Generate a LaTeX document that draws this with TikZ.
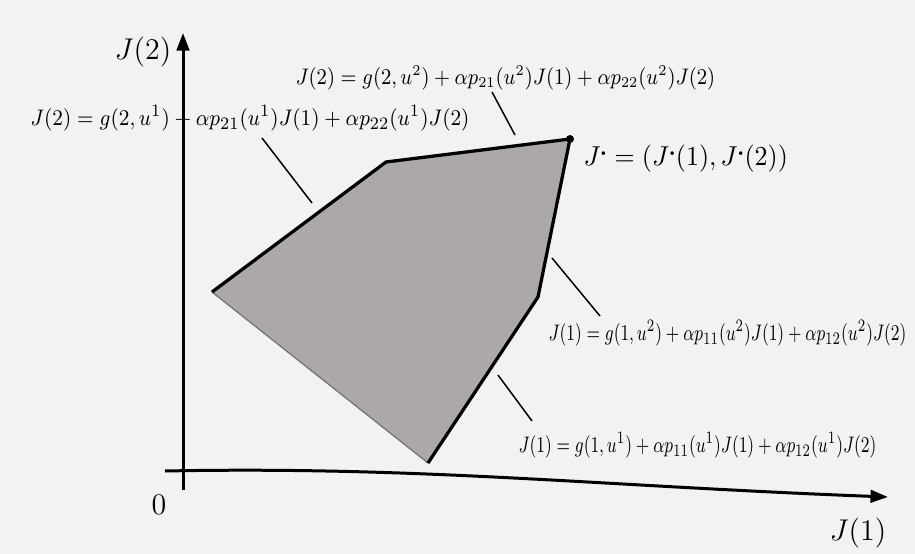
\documentclass[tikz,border=0pt]{standalone}
\usepackage{graphicx}
\usetikzlibrary{arrows.meta}
\definecolor{bg}{RGB}{242,242,240}
\definecolor{polyfill}{RGB}{172,168,167}
\newcommand{\sqz}[2]{\scalebox{#1}[1]{#2}}
\newcommand{\jst}{J^{\kern0.2pt\scalebox{0.6}{$\scriptscriptstyle\bullet$}}}
\begin{document}
\begin{tikzpicture}[x=0.4pt,y=-0.4pt,
  edge/.style={line width=1.3pt, line join=miter},
  leader/.style={line width=0.6pt},
  axis/.style={line width=1.2pt, -{Triangle[length=7pt,width=5pt]}},
  lbl/.style={inner sep=0pt, anchor=west, font=\fontsize{9.5}{11}\selectfont},
  axl/.style={inner sep=0pt, font=\fontsize{13}{15}\selectfont}]
\useasboundingbox[fill=bg] (0,0) rectangle (915,554);
% polygon vertices
\coordinate (A) at (212,292);
\coordinate (B) at (386,162);
\coordinate (S) at (570,139);
\coordinate (C) at (538,297);
\coordinate (D) at (428,463);
\fill[polyfill] (A)--(B)--(S)--(C)--(D)--cycle;
\draw[black!55, line width=0.5pt] (D)--(A);
\draw[edge] (A)--(B)--(S)--(C)--(D);
\fill (S) circle (4);
% axes
\coordinate (O1) at (183,490);
\coordinate (YT) at (183,33);
\coordinate (X0) at (165,471);
\coordinate (XT) at (888,497);
\draw[axis] (O1) -- (YT);
\draw[axis] (X0) .. controls (420,466) and (600,486) .. (XT);
% labels
\node[lbl] (L1) at (30,118) {\sqz{0.92}{$J(2)=g(2,u^1)+\alpha p_{21}(u^1)J(1)+\alpha p_{22}(u^1)J(2)$}};
\node[lbl, font=\fontsize{9}{11}\selectfont] (L2) at (295,78) {\sqz{0.89}{$J(2)=g(2,u^2)+\alpha p_{21}(u^2)J(1)+\alpha p_{22}(u^2)J(2)$}};
\node[lbl, font=\fontsize{11}{13}\selectfont] (LS) at (583,158) {\sqz{0.95}{$\jst=\big(\jst(1),\jst(2)\big)$}};
\node[lbl] (L3) at (548,333) {\sqz{0.75}{$J(1)=g(1,u^2)+\alpha p_{11}(u^2)J(1)+\alpha p_{12}(u^2)J(2)$}};
\node[lbl] (L4) at (518,445) {\sqz{0.75}{$J(1)=g(1,u^1)+\alpha p_{11}(u^1)J(1)+\alpha p_{12}(u^1)J(2)$}};
\node[axl] (Y) at (143,52) {$J(2)$};
\node[axl] (Z) at (159,505) {$0$};
\node[axl] (X) at (858,533) {$J(1)$};
% leader lines
\coordinate (a1) at (262,138); \coordinate (a2) at (312,203);
\coordinate (b1) at (492,92);  \coordinate (b2) at (515,135);
\coordinate (c1) at (552,258); \coordinate (c2) at (600,316);
\coordinate (d1) at (498,375); \coordinate (d2) at (532,421);
\draw[leader] (a1) -- (a2);
\draw[leader] (b1) -- (b2);
\draw[leader] (c1) -- (c2);
\draw[leader] (d1) -- (d2);
\end{tikzpicture}
\end{document}
